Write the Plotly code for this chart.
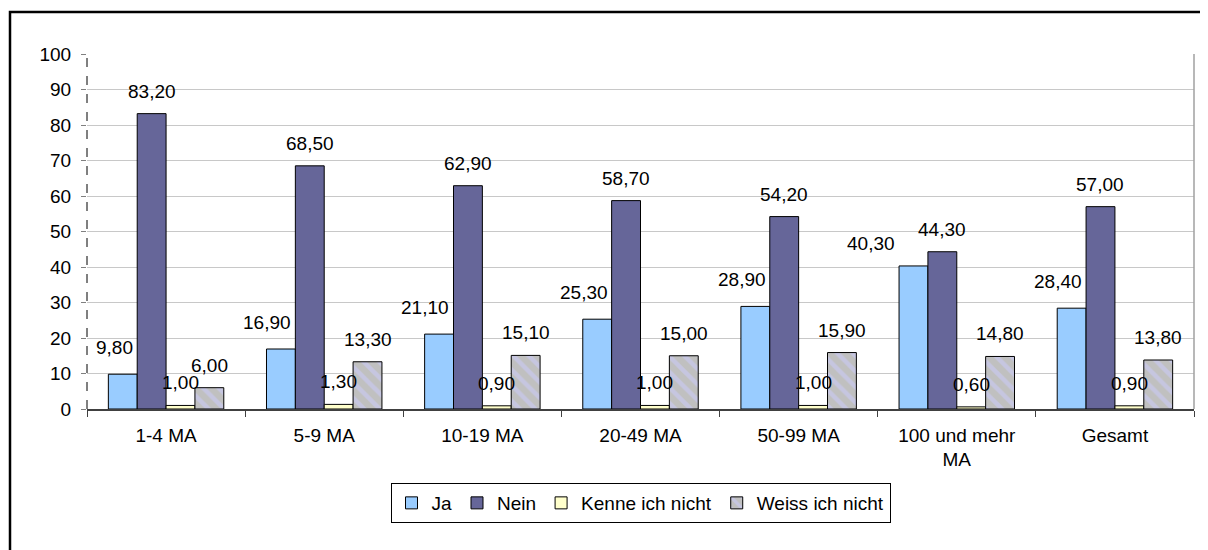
import plotly.graph_objects as go

categories = ["1-4 MA", "5-9 MA", "10-19 MA", "20-49 MA", "50-99 MA",
              "100 und mehr<br>MA", "Gesamt"]
ja = [9.8, 16.9, 21.1, 25.3, 28.9, 40.3, 28.4]
nein = [83.2, 68.5, 62.9, 58.7, 54.2, 44.3, 57.0]
kenne = [1.0, 1.3, 0.9, 1.0, 1.0, 0.6, 0.9]
weiss = [6.0, 13.3, 15.1, 15.0, 15.9, 14.8, 13.8]

series = [
    ("Ja", ja, dict(color="#99CCFF")),
    ("Nein", nein, dict(color="#666699")),
    ("Kenne ich nicht", kenne, dict(color="#FFFFCC")),
    ("Weiss ich nicht", weiss, dict(color="#C0C0C0",
                                    pattern=dict(shape="\\", fgcolor="#CCCCFF", bgcolor="#C0C0C0",
                                                 size=11, solidity=0.4))),
]


def fmt(v):
    return f"{v:.2f}".replace(".", ",")


BARGAP = 0.27
L, R, T, B = 79, 22, 46, 149
W, H = 1208, 550

fig = go.Figure()
for name, vals, mk in series:
    fig.add_trace(go.Bar(x=categories, y=vals, name=name,
                         marker=dict(line=dict(color="black", width=1), **mk)))

# data labels as annotations so they sit on top of neighbouring bars (like Excel)
cat_w = (W - L - R) / len(categories)
bar_w = cat_w * (1 - BARGAP) / len(series)
for i, (name, vals, _) in enumerate(series):
    centre = (i - (len(series) - 1) / 2) * bar_w
    for j, v in enumerate(vals):
        anchor, shift, ys = "center", centre, 10
        if name == "Ja":
            ys = 14
            if nein[j] - v < 8:
                anchor, shift, ys = "right", centre - bar_w / 2 - 2, 10
            else:
                anchor, shift = "right", centre + bar_w / 2 - 2
        fig.add_annotation(x=categories[j], y=v, text=fmt(v), showarrow=False,
                           xanchor=anchor, yanchor="bottom", xshift=shift, yshift=ys,
                           font=dict(size=19, color="black"))

# the page adds an 8px body margin, so the figure is laid out 8px up/left
fig.update_layout(
    width=W, height=H,
    margin=dict(l=L, r=R, t=T, b=B),
    paper_bgcolor="white", plot_bgcolor="white",
    font=dict(family="Liberation Sans, Arial", size=19, color="black"),
    barmode="group", bargap=BARGAP, bargroupgap=0,
    legend=dict(orientation="h", x=0.5, xanchor="center", y=-0.2085, yanchor="top",
                bordercolor="black", borderwidth=1, font=dict(size=19),
                itemwidth=30, tracegroupgap=0),
    showlegend=True,
)
fig.update_xaxes(showline=True, linecolor="#404040", linewidth=1.5,
                 ticks="outside", tickson="boundaries", ticklen=6, tickcolor="#404040",
                 showgrid=False, tickfont=dict(size=19), ticklabelstandoff=8)
fig.update_yaxes(range=[0, 100], dtick=10, showgrid=True, gridcolor="#C8C8C8",
                 ticks="outside", ticklen=5, tickcolor="#808080", showline=False,
                 zeroline=False, tickfont=dict(size=19), ticklabelstandoff=6)

# dashed value axis, right border of the plot area, outer frame
fig.add_shape(type="line", xref="paper", yref="paper", x0=0, x1=0, y0=0, y1=1,
              line=dict(color="black", width=1, dash="dash"))
fig.add_shape(type="line", xref="paper", yref="paper", x0=1, x1=1, y0=0, y1=1,
              line=dict(color="#A0A0A0", width=1.5))
fig.add_shape(type="rect", xref="paper", yref="paper",
              x0=(2 - L) / (W - L - R), x1=(1230 - L) / (W - L - R),
              y0=(H - B - 570) / (H - T - B), y1=(H - B - 4) / (H - T - B),
              line=dict(color="black", width=2.5))

fig.write_html("out.html")
